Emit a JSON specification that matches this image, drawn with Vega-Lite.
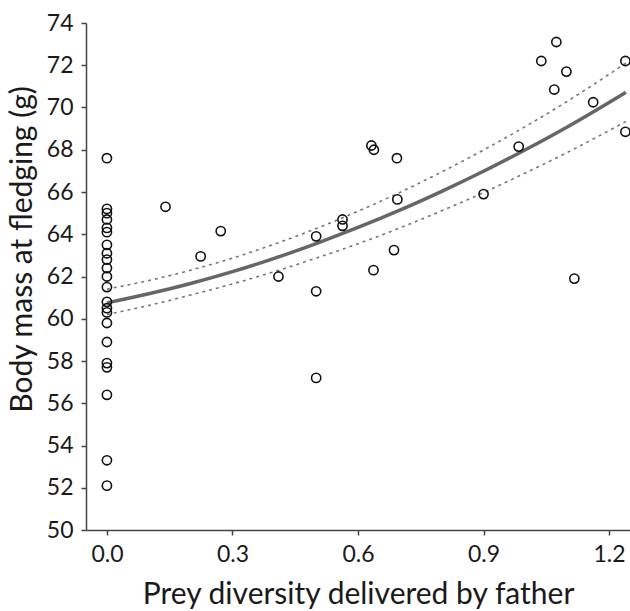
{
  "$schema": "https://vega.github.io/schema/vega-lite/v6.json",
  "autosize": "none",
  "width": 544,
  "height": 507,
  "padding": {"left": 86, "top": 23, "right": 0, "bottom": 81},
  "background": "white",
  "config": {
    "view": {"stroke": null},
    "font": "Lato",
    "axis": {
      "labelFont": "Lato",
      "titleFont": "Lato",
      "labelFontSize": 23,
      "titleFontSize": 30,
      "labelColor": "#1a1a1a",
      "titleColor": "#1a1a1a",
      "titleFontWeight": "normal",
      "domainColor": "#444444",
      "domainWidth": 1.5,
      "tickColor": "#444444",
      "tickWidth": 1.5,
      "tickSize": 5,
      "grid": false
    }
  },
  "datasets": {
    "pts": [
      {"x": 0, "y": 67.6}, {"x": 0, "y": 65.2}, {"x": 0, "y": 65.0}, {"x": 0, "y": 64.7},
      {"x": 0, "y": 64.3}, {"x": 0, "y": 64.1}, {"x": 0, "y": 63.5}, {"x": 0, "y": 63.1},
      {"x": 0, "y": 62.8}, {"x": 0, "y": 62.4}, {"x": 0, "y": 62.0}, {"x": 0, "y": 61.5},
      {"x": 0, "y": 60.8}, {"x": 0, "y": 60.5}, {"x": 0, "y": 60.3}, {"x": 0, "y": 59.8},
      {"x": 0, "y": 58.9}, {"x": 0, "y": 57.9}, {"x": 0, "y": 57.7}, {"x": 0, "y": 56.4},
      {"x": 0, "y": 53.3}, {"x": 0, "y": 52.1},
      {"x": 0.14, "y": 65.3}, {"x": 0.224, "y": 62.95}, {"x": 0.272, "y": 64.15},
      {"x": 0.41, "y": 62.0}, {"x": 0.5, "y": 63.9}, {"x": 0.5, "y": 61.3}, {"x": 0.5, "y": 57.2},
      {"x": 0.563, "y": 64.7}, {"x": 0.563, "y": 64.4},
      {"x": 0.632, "y": 68.2}, {"x": 0.638, "y": 68.0}, {"x": 0.637, "y": 62.3},
      {"x": 0.686, "y": 63.25}, {"x": 0.693, "y": 67.6}, {"x": 0.694, "y": 65.65},
      {"x": 0.9, "y": 65.9}, {"x": 0.984, "y": 68.15},
      {"x": 1.038, "y": 72.2}, {"x": 1.069, "y": 70.85}, {"x": 1.074, "y": 73.1},
      {"x": 1.098, "y": 71.7}, {"x": 1.117, "y": 61.9}, {"x": 1.162, "y": 70.25},
      {"x": 1.239, "y": 72.2}, {"x": 1.239, "y": 68.85}
    ],
    "fit": [
      {"x": 0, "fit": 60.75, "lo": 60.2, "hi": 61.4},
      {"x": 0.1, "fit": 61.18, "lo": 60.63, "hi": 61.81},
      {"x": 0.2, "fit": 61.67, "lo": 61.12, "hi": 62.3},
      {"x": 0.3, "fit": 62.23, "lo": 61.65, "hi": 62.87},
      {"x": 0.4, "fit": 62.86, "lo": 62.23, "hi": 63.53},
      {"x": 0.5, "fit": 63.56, "lo": 62.87, "hi": 64.27},
      {"x": 0.6, "fit": 64.32, "lo": 63.55, "hi": 65.09},
      {"x": 0.7, "fit": 65.14, "lo": 64.3, "hi": 65.98},
      {"x": 0.8, "fit": 66.03, "lo": 65.11, "hi": 66.95},
      {"x": 0.9, "fit": 66.98, "lo": 65.97, "hi": 67.99},
      {"x": 1.0, "fit": 68.0, "lo": 66.9, "hi": 69.1},
      {"x": 1.1, "fit": 69.08, "lo": 67.87, "hi": 70.29},
      {"x": 1.2, "fit": 70.24, "lo": 68.91, "hi": 71.57},
      {"x": 1.24, "fit": 70.72, "lo": 69.34, "hi": 72.1}
    ]
  },
  "layer": [
    {
      "data": {"name": "fit"},
      "mark": {"type": "line", "color": "#777777", "strokeWidth": 1.6, "strokeDash": [3, 4], "interpolate": "monotone"},
      "encoding": {
        "x": {"field": "x", "type": "quantitative"},
        "y": {"field": "hi", "type": "quantitative"}
      }
    },
    {
      "data": {"name": "fit"},
      "mark": {"type": "line", "color": "#777777", "strokeWidth": 1.6, "strokeDash": [3, 4], "interpolate": "monotone"},
      "encoding": {
        "x": {"field": "x", "type": "quantitative"},
        "y": {"field": "lo", "type": "quantitative"}
      }
    },
    {
      "data": {"name": "fit"},
      "mark": {"type": "line", "color": "#666666", "strokeWidth": 3.5, "interpolate": "monotone"},
      "encoding": {
        "x": {"field": "x", "type": "quantitative"},
        "y": {"field": "fit", "type": "quantitative"}
      }
    },
    {
      "data": {"name": "pts"},
      "mark": {"type": "point", "shape": "circle", "filled": false, "stroke": "#111111", "strokeWidth": 1.6, "size": 85, "opacity": 1, "clip": false},
      "encoding": {
        "x": {
          "field": "x", "type": "quantitative",
          "scale": {"domain": [-0.05, 1.25], "nice": false, "zero": false},
          "axis": {"values": [0, 0.3, 0.6, 0.9, 1.2], "format": ".1f", "title": "Prey diversity delivered by father", "labelPadding": 8, "titlePadding": 13}
        },
        "y": {
          "field": "y", "type": "quantitative",
          "scale": {"domain": [50, 74], "nice": false, "zero": false},
          "axis": {"values": [50, 52, 54, 56, 58, 60, 62, 64, 66, 68, 70, 72, 74], "title": "Body mass at fledging (g)", "labelPadding": 8, "titleX": -64, "titleY": 226, "titleBaseline": "middle", "titleAlign": "center", "titleAngle": -90}
        }
      }
    }
  ]
}
